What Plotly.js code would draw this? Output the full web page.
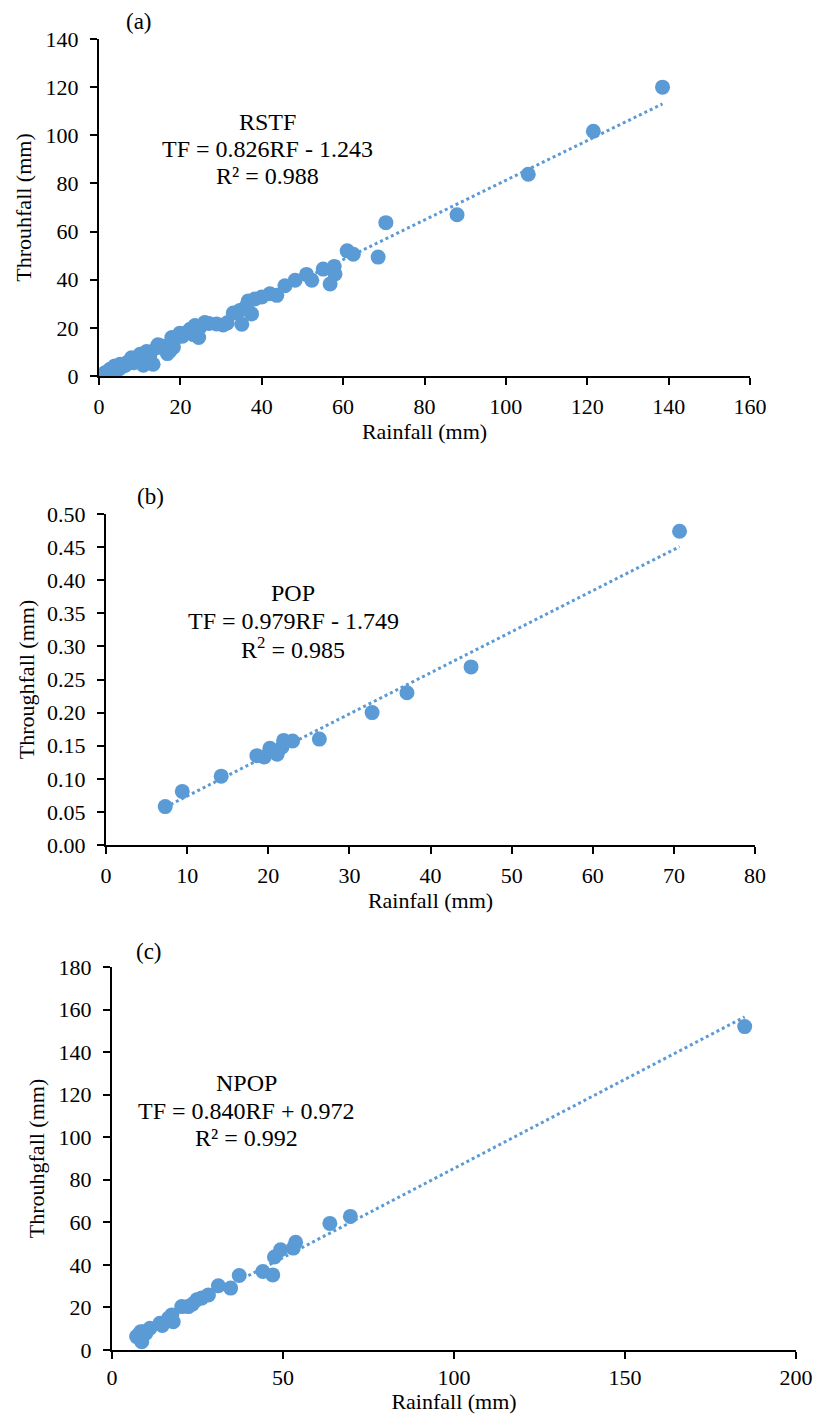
<!DOCTYPE html>
<html>
<head>
<meta charset="utf-8">
<script src="https://cdn.plot.ly/plotly-3.0.1.min.js"></script>
<style>
html,body{margin:0;padding:0;background:#fff;}
#chart{width:813px;height:1414px;}
</style>
</head>
<body>
<div id="chart"></div>
<script>
// ---------- DATA ----------
const rstfRain = [138.5,121.5,105.5,88,70.5,68.6,62.5,61,56.8,58,57.8,55.1,52.3,51,48.2,45.7,43.7,42,40,38.3,36.7,36.3,37.5,35.1,33,34.6,30.5,28.9,26,24.8,23.2,22.4,23.6,24.5,21.5,19.9,18.7,17.9,17.4,18.3,16.8,14.5,14.2,13.3,12.1,11.7,10.9,10.1,9.5,8,7.5,6.8,6,5.2,4.6,3.9,3.3,2.7,2.3,1.5,2.5,3,4,5,6.5,8.5,9,12.5,15.5,20.5,27,31.5,2,1.8];
const rstfTF   = [120,101.7,83.8,67,63.7,49.4,50.6,52,38.2,42.4,45.5,44.4,39.8,42.2,39.8,37.5,33.5,34.2,32.8,32,31.2,29.3,25.8,21.5,26.2,27.2,21.2,21.6,22.2,20.3,17.2,19.4,21,16,18,17.8,15.5,16,10.4,12,9.3,13,11.8,4.9,6.2,10.2,4.5,9,7.5,7.6,6,5.5,4.2,4.9,3.8,4.2,3,2.8,2,1.4,0.5,1.5,2.5,3,4.5,5.5,6.5,8.5,12.5,16.5,21.8,22,1,0.6];

const popRain = [7.3,9.4,14.2,18.6,19.5,20.2,21.1,21.7,21.9,23.0,26.3,32.8,37.1,45.0,70.7];
const popTF   = [0.058,0.081,0.104,0.135,0.133,0.146,0.137,0.148,0.158,0.157,0.160,0.200,0.230,0.269,0.474];

const npopRain = [7.2,7.7,8.4,8.7,9.2,9.9,11.1,14.0,14.7,16.5,17.5,17.9,20.4,22.3,23.5,24.8,26.2,28.2,31.1,34.7,37.2,44.1,47.0,47.5,49.3,53.0,53.7,63.7,69.7,185];
const npopTF   = [6.3,7.0,8.6,3.9,8.6,7.9,10.2,12.6,11.5,14.9,16.5,13.3,20.4,20.4,21.5,23.6,24.4,25.9,30.2,29.1,35,36.9,35.3,43.7,47.1,47.9,50.6,59.5,62.8,152];

const panelLabels = ["(a)","(b)","(c)"];
const siteNames = ["RSTF","POP","NPOP"];
const equations = ["TF = 0.826RF - 1.243","TF = 0.979RF - 1.749","TF = 0.840RF + 0.972"];
const r2Texts = ["R² = 0.988","R<sup>2</sup> = 0.985","R² = 0.992"];
const xTitles = ["Rainfall (mm)","Rainfall (mm)","Rainfall (mm)"];
const yTitles = ["Throuhfall (mm)","Throughfall (mm)","Throuhgfall (mm)"];

// ---------- HELPERS ----------
function fit(x,y){
  const n=x.length; let sx=0,sy=0,sxx=0,sxy=0;
  for(let i=0;i<n;i++){sx+=x[i];sy+=y[i];sxx+=x[i]*x[i];sxy+=x[i]*y[i];}
  const m=(n*sxy-sx*sy)/(n*sxx-sx*sx); const b=(sy-m*sx)/n;
  const x0=Math.min(...x), x1=Math.max(...x);
  return {x:[x0,x1], y:[m*x0+b, m*x1+b]};
}
const BLUE = "#5B9BD5";
const FONT = "Liberation Serif, Times New Roman, serif";
const W=813, H=1414;

function lineTrace(x,y,xa,ya){
  const f=fit(x,y);
  return {x:f.x,y:f.y,xaxis:xa,yaxis:ya,mode:"lines",type:"scatter",
    line:{color:BLUE,width:3,dash:"dot"},hoverinfo:"skip",showlegend:false};
}
function ptTrace(x,y,xa,ya){
  return {x:x,y:y,xaxis:xa,yaxis:ya,mode:"markers",type:"scatter",
    marker:{color:BLUE,size:15,line:{width:0}},showlegend:false};
}

const data = [
  lineTrace(rstfRain,rstfTF,"x","y"), ptTrace(rstfRain,rstfTF,"x","y"),
  lineTrace(popRain,popTF,"x2","y2"), ptTrace(popRain,popTF,"x2","y2"),
  lineTrace(npopRain,npopTF,"x3","y3"), ptTrace(npopRain,npopTF,"x3","y3")
];

function axis(domain, range, dtick, title, standoff, lblStand, fmt){
  const a = {domain:domain, range:range, dtick:dtick, tick0:0,
    showline:true, linecolor:"#000", linewidth:2, mirror:false,
    ticks:"outside", ticklen:7, tickwidth:2, tickcolor:"#000",
    ticklabelstandoff:lblStand,
    showgrid:false, zeroline:false, fixedrange:true, automargin:false,
    tickfont:{family:FONT,size:22,color:"#000"},
    title:{text:title, font:{family:FONT,size:22,color:"#000"}, standoff:standoff}};
  if(fmt) a.tickformat = fmt;
  return a;
}
const px = v => v/W, py = v => (H - v)/H;

const layout = {
  width:W, height:H, margin:{l:0,r:0,t:0,b:0},
  paper_bgcolor:"#fff", plot_bgcolor:"rgba(0,0,0,0)", showlegend:false,
  font:{family:FONT,color:"#000"},
  xaxis:  axis([px(99),px(750)], [0,160], 20, xTitles[0], 2, 3),
  yaxis:  axis([py(376),py(39)], [0,140], 20, yTitles[0], 8, 7),
  xaxis2: axis([px(106),px(755)], [0,80], 10, xTitles[1], 2, 3),
  yaxis2: axis([py(845),py(514)], [0,0.5], 0.05, yTitles[1], 6, 7, ".2f"),
  xaxis3: axis([px(112),px(796)], [0,200], 50, xTitles[2], 5, 0),
  yaxis3: axis([py(1350),py(967)], [0,180], 20, yTitles[2], 8, 7),
  annotations: []
};
layout.xaxis2.anchor="y2"; layout.yaxis2.anchor="x2";
layout.xaxis3.anchor="y3"; layout.yaxis3.anchor="x3";

const annPos = [
  {lab:[139,21], cx:267, ys:[122,149,176]},
  {lab:[150,496], cx:293, ys:[593,621,648]},
  {lab:[149,951], cx:246, ys:[1083,1111,1138]}
];
annPos.forEach((p,i)=>{
  const f = {family:FONT,size:24,color:"#000"};
  const fl = {family:FONT,size:23,color:"#000"};
  layout.annotations.push({xref:"paper",yref:"paper",x:px(p.lab[0]),y:py(p.lab[1]),text:panelLabels[i],showarrow:false,font:fl,xanchor:"center",yanchor:"middle"});
  layout.annotations.push({xref:"paper",yref:"paper",x:px(p.cx),y:py(p.ys[0]),text:siteNames[i],showarrow:false,font:f,xanchor:"center",yanchor:"middle"});
  layout.annotations.push({xref:"paper",yref:"paper",x:px(p.cx),y:py(p.ys[1]),text:equations[i],showarrow:false,font:f,xanchor:"center",yanchor:"middle"});
  layout.annotations.push({xref:"paper",yref:"paper",x:px(p.cx),y:py(p.ys[2]),text:r2Texts[i],showarrow:false,font:f,xanchor:"center",yanchor:"middle"});
});

Plotly.newPlot("chart", data, layout, {displayModeBar:false, staticPlot:true});
</script>
</body>
</html>
